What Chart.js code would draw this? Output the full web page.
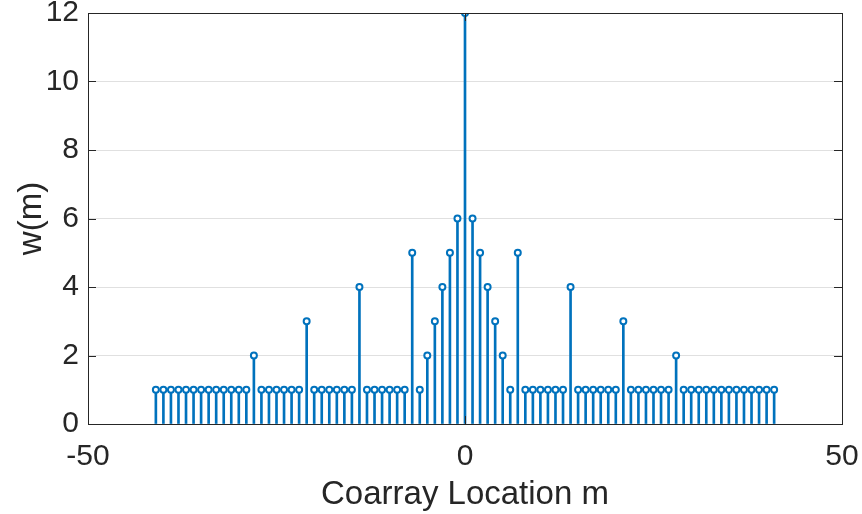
<!DOCTYPE html>
<html>
<head>
<meta charset="utf-8">
<script src="https://cdn.jsdelivr.net/npm/chart.js@4/dist/chart.umd.min.js"></script>
<style>
  html, body { margin: 0; padding: 0; background: #ffffff; }
  #wrap { width: 862px; height: 514px; }
</style>
</head>
<body>
<div id="wrap"><canvas id="stemChart" width="862" height="514"></canvas></div>
<script>
// coarray locations m (-41 .. 41)
const locations = [
  -41, -40, -39, -38, -37, -36, -35, -34, -33, -32, -31, -30, -29, -28,
  -27, -26, -25, -24, -23, -22, -21, -20, -19, -18, -17, -16, -15, -14,
  -13, -12, -11, -10, -9, -8, -7, -6, -5, -4, -3, -2, -1, 0,
  1, 2, 3, 4, 5, 6, 7, 8, 9, 10, 11, 12, 13, 14,
  15, 16, 17, 18, 19, 20, 21, 22, 23, 24, 25, 26, 27, 28,
  29, 30, 31, 32, 33, 34, 35, 36, 37, 38, 39, 40, 41
];
// weight function w(m)
const weights = [
  1, 1, 1, 1, 1, 1, 1, 1, 1, 1, 1, 1, 1, 2,
  1, 1, 1, 1, 1, 1, 3, 1, 1, 1, 1, 1, 1, 4,
  1, 1, 1, 1, 1, 1, 5, 1, 2, 3, 4, 5, 6, 12,
  6, 5, 4, 3, 2, 1, 5, 1, 1, 1, 1, 1, 1, 4,
  1, 1, 1, 1, 1, 1, 3, 1, 1, 1, 1, 1, 1, 2,
  1, 1, 1, 1, 1, 1, 1, 1, 1, 1, 1, 1, 1
];
const xTicks = [-50, 0, 50];
const yTicks = [0, 2, 4, 6, 8, 10, 12];

const stemBlue = '#0072BD';
const axisGray = '#262626';
const fontFam = "'Liberation Sans', Arial, Helvetica, sans-serif";

const points = locations.map((m, i) => ({ x: m, y: weights[i] }));

// box round the axes + inward tick marks (MATLAB style)
const frame = {
  id: 'frame',
  afterDraw(chart) {
    const { ctx, chartArea: a, scales } = chart;
    ctx.save();
    ctx.strokeStyle = axisGray;
    ctx.lineWidth = 1;
    ctx.beginPath();
    yTicks.forEach(v => {
      const py = Math.round(scales.y.getPixelForValue(v)) + 0.5;
      ctx.moveTo(a.left, py); ctx.lineTo(a.left + 8, py);
      ctx.moveTo(a.right, py); ctx.lineTo(a.right - 8, py);
    });
    xTicks.forEach(v => {
      const px = Math.round(scales.x.getPixelForValue(v)) + 0.5;
      ctx.moveTo(px, a.bottom); ctx.lineTo(px, a.bottom - 8);
      ctx.moveTo(px, a.top); ctx.lineTo(px, a.top + 8);
    });
    ctx.stroke();
    ctx.strokeRect(Math.round(a.left) + 0.5, Math.round(a.top) + 0.5,
      Math.round(a.right - a.left), Math.round(a.bottom - a.top));
    ctx.restore();
  }
};

new Chart(document.getElementById('stemChart'), {
  type: 'scatter',
  data: {
    datasets: [
      {
        type: 'scatter',
        data: points,
        pointStyle: 'circle',
        pointRadius: 3,
        pointBorderWidth: 2,
        pointBorderColor: stemBlue,
        pointBackgroundColor: '#ffffff',
        pointHoverRadius: 3,
        order: 0
      },
      {
        type: 'bar',
        data: points,
        backgroundColor: stemBlue,
        barThickness: 2,
        order: 1
      }
    ]
  },
  options: {
    responsive: false,
    animation: false,
    layout: { padding: { top: 13, right: 20, bottom: 0, left: 0 } },
    plugins: { legend: { display: false }, tooltip: { enabled: false } },
    scales: {
      x: {
        type: 'linear',
        offset: false,
        min: -50,
        max: 50,
        afterBuildTicks: s => { s.ticks = xTicks.map(v => ({ value: v })); },
        afterFit: s => { s.height = 90; s.paddingLeft = 0; s.paddingRight = 0; },
        grid: { display: false, drawTicks: false },
        border: { display: false },
        ticks: {
          color: axisGray,
          padding: 15,
          maxRotation: 0,
          font: { family: fontFam, size: 30 }
        },
        title: {
          display: true,
          text: 'Coarray Location m',
          color: axisGray,
          padding: { top: 0, bottom: 3 },
          font: { family: fontFam, size: 33, lineHeight: 1 }
        }
      },
      y: {
        min: 0,
        max: 12,
        afterBuildTicks: s => { s.ticks = yTicks.map(v => ({ value: v })); },
        afterFit: s => { s.width = 88; s.paddingTop = 0; s.paddingBottom = 0; },
        grid: { color: '#e0e0e0', lineWidth: 1, drawTicks: false },
        border: { display: false },
        ticks: {
          color: axisGray,
          padding: 9,
          font: { family: fontFam, size: 30 }
        },
        title: {
          display: true,
          text: 'w(m)',
          color: axisGray,
          padding: { top: 15, bottom: 0 },
          font: { family: fontFam, size: 33, lineHeight: 1 }
        }
      }
    }
  },
  plugins: [frame]
});
</script>
</body>
</html>
